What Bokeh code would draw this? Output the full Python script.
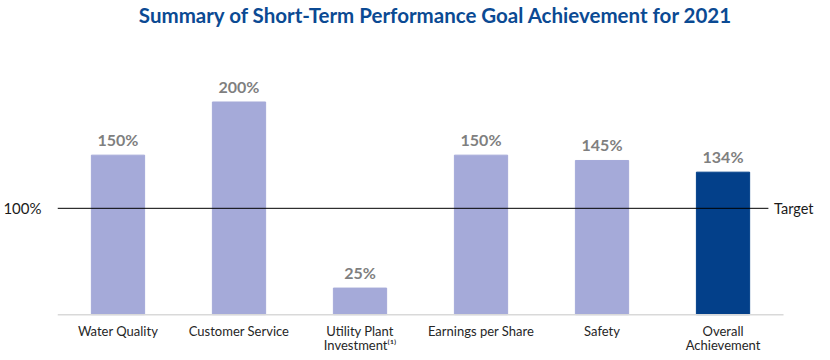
from bokeh.plotting import figure
from bokeh.models import ColumnDataSource, FixedTicker, Range1d
from bokeh.core.properties import value
from bokeh.embed import file_html
from bokeh.resources import INLINE

categories = ["Water Quality", "Customer Service", "Utility Plant\nInvestment\u207d\u00b9\u207e",
              "Earnings per Share", "Safety", "Overall\nAchievement"]
achievement = [150, 200, 25, 150, 145, 134]
value_labels = ["150%", "200%", "25%", "150%", "145%", "134%"]
target = 100
target_label = "Target"

LIGHT = "#A5AAD9"
DARK = "#03408A"
colors = [LIGHT] * (len(categories) - 1) + [DARK]
xs = [i + 0.5 for i in range(len(categories))]
n = len(categories)
x_end = n + 0.256

FONT = "Lato"

line1 = [c.split("\n")[0] for c in categories]
line2 = [c.split("\n")[1] if "\n" in c else "" for c in categories]

source = ColumnDataSource(dict(x=xs, top=achievement, color=colors, label=value_labels))
cat_source = ColumnDataSource(dict(x=xs, y=[0] * n, l1=line1, l2=line2))

p = figure(width=814, height=352, output_backend="svg", toolbar_location=None,
           x_axis_location=None,
           x_range=Range1d(0, x_end), y_range=Range1d(-35.6, 271),
           min_border_left=57, min_border_right=0, min_border_top=25, min_border_bottom=0)

p.title.text = "Summary of Short-Term Performance Goal Achievement for 2021"
p.title.align = "center"
p.title.offset = -2
p.title.text_font = FONT
p.title.text_font_size = "20.5px"
p.title.text_font_style = "bold"
p.title.text_color = "#0B4A93"
p.title.standoff = 0

p.vbar(x="x", top="top", bottom=0, width=0.44, color="color", source=source)

# baseline (category axis line)
p.segment(x0=[0], y0=[0], x1=[n], y1=[0], line_color="#D9D9D9", line_width=1.5)

# target line
p.segment(x0=[0], y0=[target], x1=[n - 0.125], y1=[target],
          line_color="#000000", line_width=1)
p.text(x=[x_end], y=[target], text=[target_label], x_offset=-1, text_align="right",
       text_baseline="middle", text_font=value(FONT), text_font_size="14.5px",
       text_color="#1A1A1A")

p.text(x="x", y="top", text="label", source=source, y_offset=-6,
       text_align="center", text_baseline="bottom",
       text_font=value(FONT), text_font_size="16px", text_font_style="bold",
       text_color="#7F7F7F")

# category labels (two rows)
p.text(x="x", y="y", text="l1", source=cat_source, y_offset=8,
       text_align="center", text_baseline="top",
       text_font=value(FONT), text_font_size="13px", text_color="#262626")
p.text(x="x", y="y", text="l2", source=cat_source, y_offset=22,
       text_align="center", text_baseline="top",
       text_font=value(FONT), text_font_size="13px", text_color="#262626")

p.yaxis.ticker = FixedTicker(ticks=[target])
p.yaxis.major_label_overrides = {target: "100%"}
p.yaxis.major_tick_line_color = None
p.yaxis.major_tick_out = 0
p.yaxis.major_tick_in = 0
p.yaxis.minor_tick_line_color = None
p.yaxis.axis_line_color = None
p.yaxis.major_label_standoff = 16
p.yaxis.major_label_text_font = FONT
p.yaxis.major_label_text_font_size = "15px"
p.yaxis.major_label_text_color = "#1A1A1A"

p.xgrid.grid_line_color = None
p.ygrid.grid_line_color = None
p.outline_line_color = None

open("out.html", "w").write(file_html(p, INLINE))
